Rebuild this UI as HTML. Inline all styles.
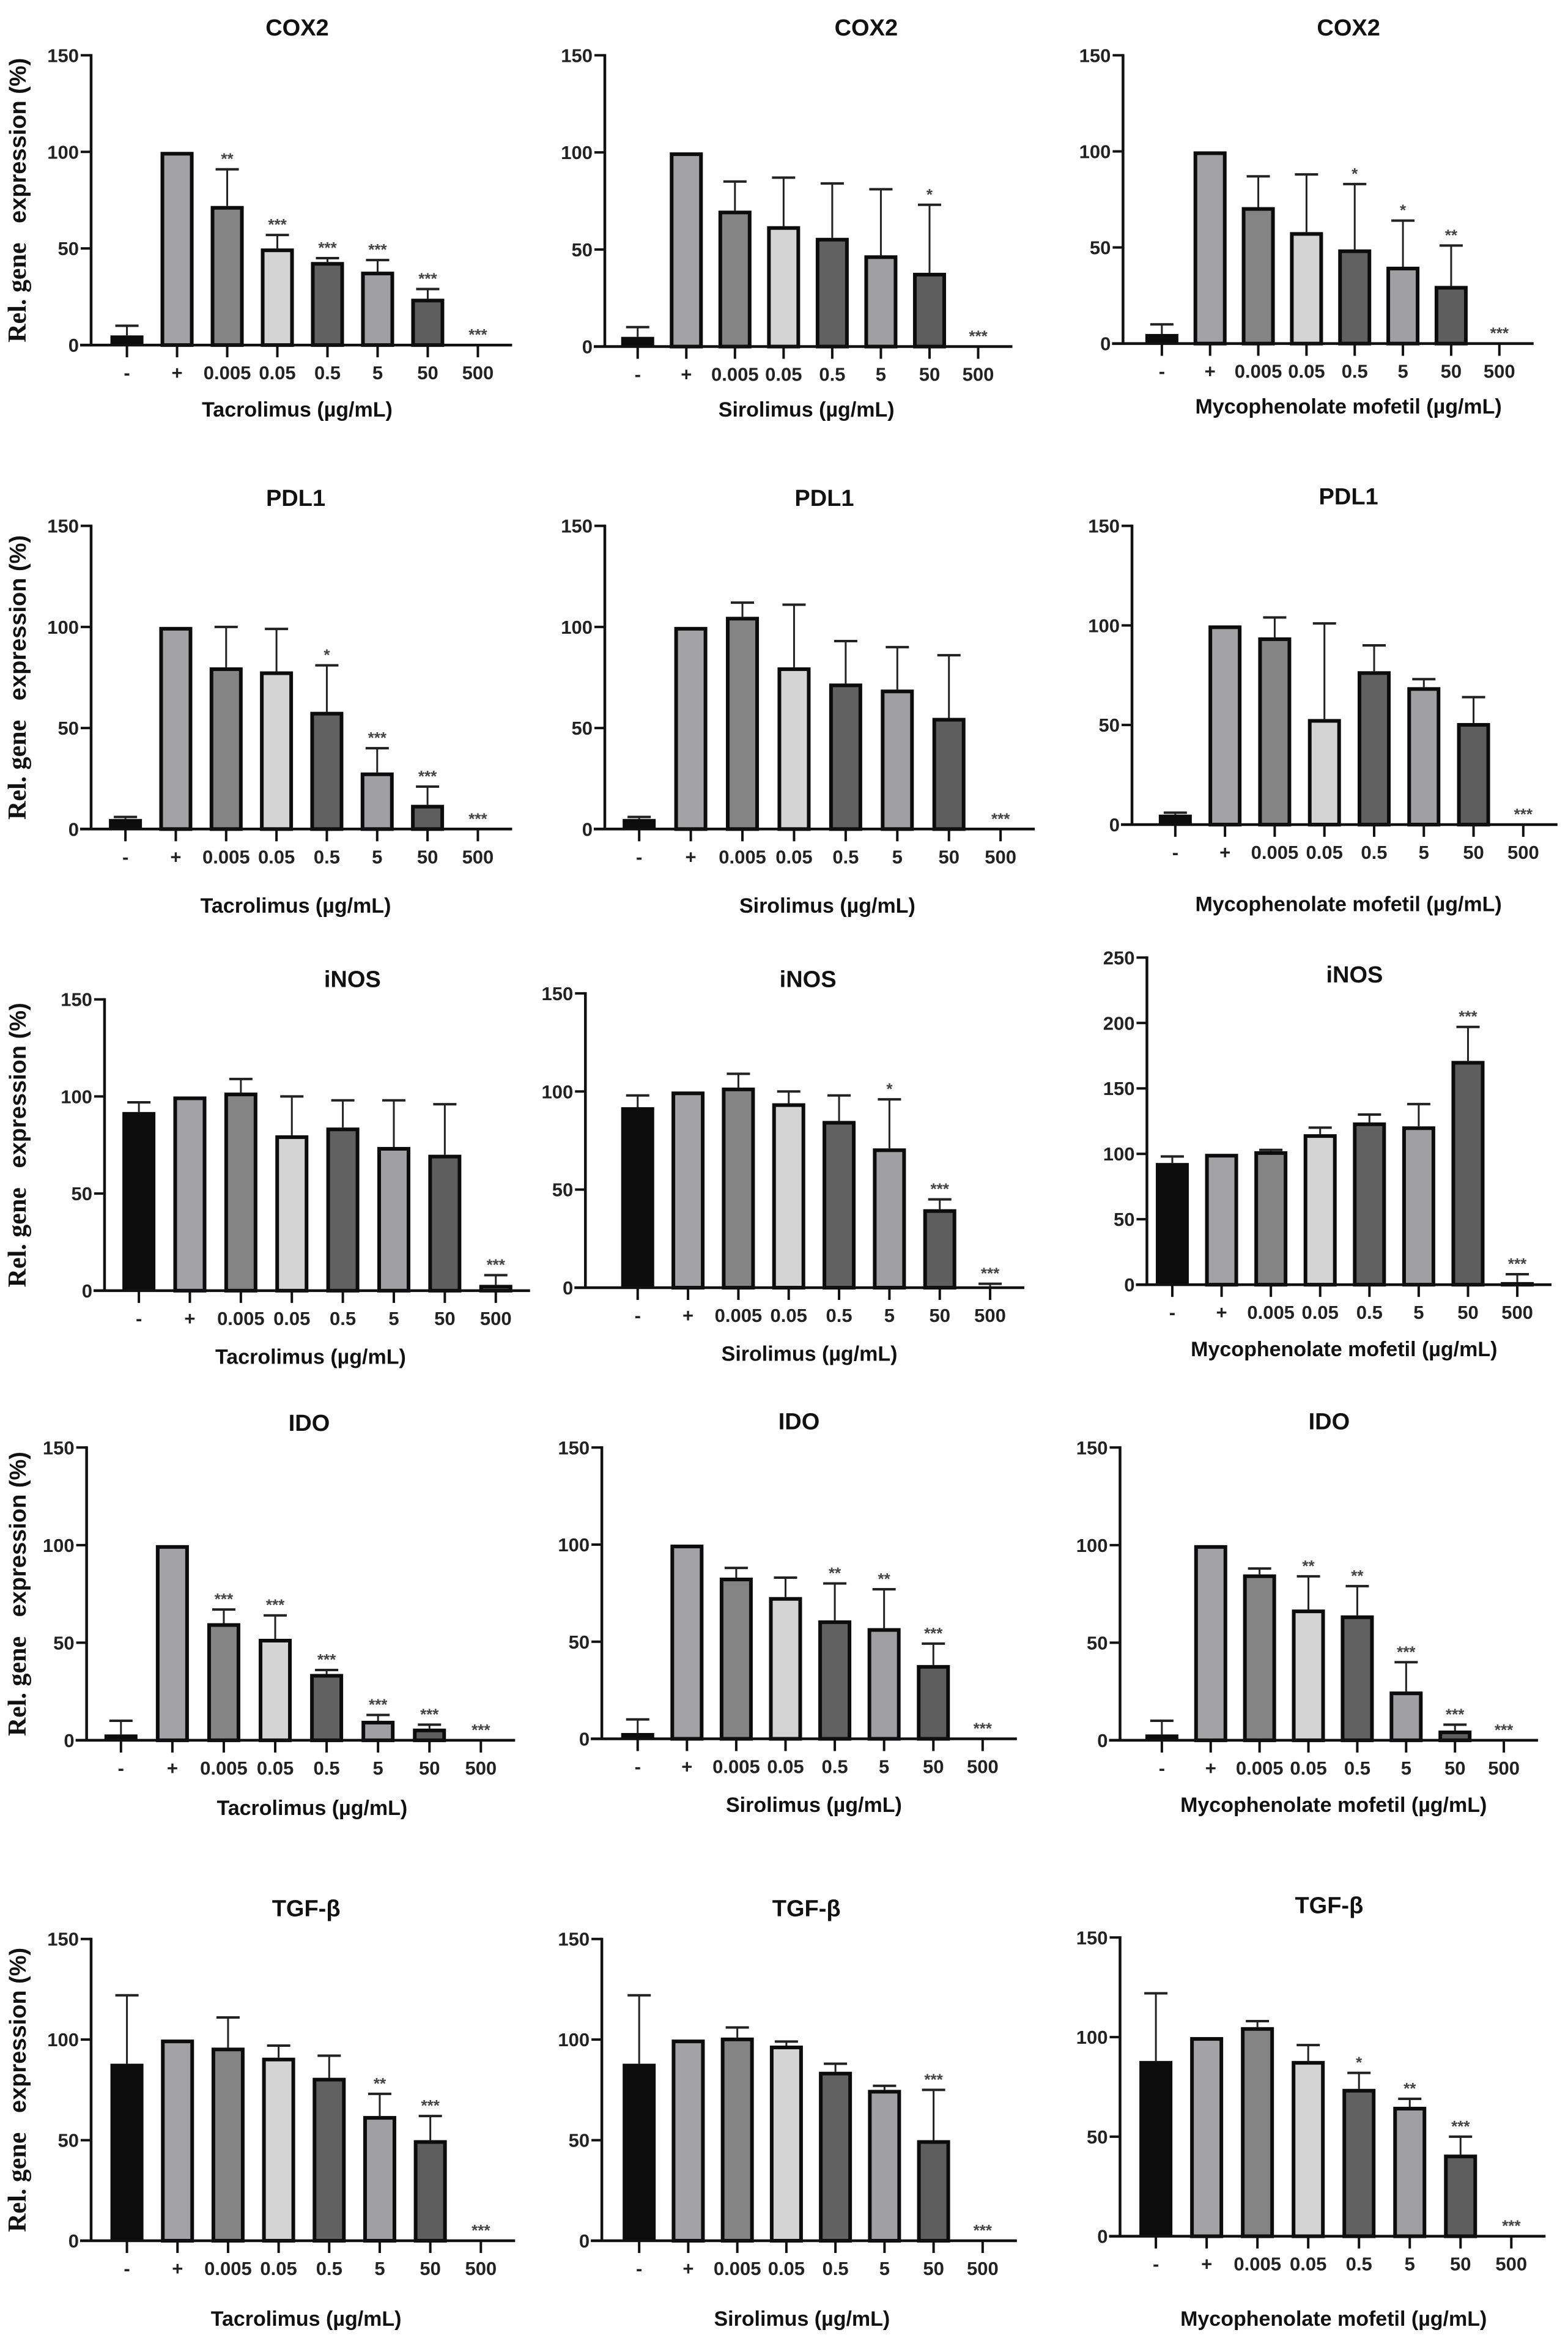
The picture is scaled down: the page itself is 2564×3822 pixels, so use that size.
<!DOCTYPE html>
<html><head><meta charset="utf-8">
<style>
html,body{margin:0;padding:0;background:#fff;}
svg{display:block;}
</style></head>
<body>
<svg id="fig" width="2564" height="3822" viewBox="0 0 2564 3822" xmlns="http://www.w3.org/2000/svg"></svg>
<script>
// ---- data ----
const categories = ['-','+','0.005','0.05','0.5','5','50','500'];
const panelTitles = ['COX2','COX2','COX2','PDL1','PDL1','PDL1','iNOS','iNOS','iNOS','IDO','IDO','IDO','TGF-β','TGF-β','TGF-β'];
const drugs = ['Tacrolimus','Sirolimus','Mycophenolate mofetil'];
const yMaxes = [150,150,150,150,150,150,150,150,250,150,150,150,150,150,150];
const means = [
 [5,100,72,50,43,38,24,0],
 [5,100,70,62,56,47,38,0],
 [5,100,71,58,49,40,30,0],
 [5,100,80,78,58,28,12,0],
 [5,100,105,80,72,69,55,0],
 [5,100,94,53,77,69,51,0],
 [92,100,102,80,84,74,70,3],
 [92,100,102,94,85,71,40,0],
 [93,100,102,115,124,121,171,2],
 [3,100,60,52,34,10,6,0],
 [3,100,83,73,61,57,38,0],
 [3,100,85,67,64,25,5,0],
 [88,100,96,91,81,62,50,0],
 [88,100,101,97,84,75,50,0],
 [88,100,105,88,74,65,41,0]
];
const errTops = [
 [10,100,91,57,45,44,29,0],
 [10,100,85,87,84,81,73,0],
 [10,100,87,88,83,64,51,0],
 [6,100,100,99,81,40,21,0],
 [6,100,112,111,93,90,86,0],
 [6,100,104,101,90,73,64,0],
 [97,100,109,100,98,98,96,8],
 [98,100,109,100,98,96,45,2],
 [98,100,103,120,130,138,197,8],
 [10,100,67,64,36,13,8,0],
 [10,100,88,83,80,77,49,0],
 [10,100,88,84,79,40,8,0],
 [122,100,111,97,92,73,62,0],
 [122,100,106,99,88,77,75,0],
 [122,100,108,96,82,69,50,0]
];
const stars = [
 ['','','**','***','***','***','***','***'],
 ['','','','','','','*','***'],
 ['','','','','*','*','**','***'],
 ['','','','','*','***','***','***'],
 ['','','','','','','','***'],
 ['','','','','','','','***'],
 ['','','','','','','','***'],
 ['','','','','','*','***','***'],
 ['','','','','','','***','***'],
 ['','','***','***','***','***','***','***'],
 ['','','','','**','**','***','***'],
 ['','','','**','**','***','***','***'],
 ['','','','','','**','***','***'],
 ['','','','','','','***','***'],
 ['','','','','*','**','***','***']
];
// ---- layout (preview units, x2.442) ----
const S = 2.442;
// axisX, yTop, y0, firstBar, lastBar, titleX, titleY, xtitleX, xtitleY
const layout = [
 [61,37,231,85,320,199,18,199,274],
 [405,37,232,427,655,580,18,540,274],
 [752,37,230,778,1004,903,18,903,272],
 [61,352,555,84,320,198,333,198,606],
 [405,352,555,428,670,552,333,554,606],
 [758,352,552,787,1020,903,332,903,605],
 [70,669,864,93,332,236,655,208,908],
 [392,665,862,427,663,541,655,542,906],
 [768,641,860,785,1016,907,652,900,903],
 [58,969,1165,81,322,207,952,209,1210],
 [403,969,1164,427,658,535,951,545,1208],
 [750,969,1165,778,1007,890,951,893,1208],
 [61,1298,1500,85,322,205,1277,205,1552],
 [403,1298,1500,428,658,540,1277,537,1552],
 [750,1297,1497,774,1012,890,1275,893,1552]
];
const fills = ['#0c0c0c','#a3a3a5','#848484','#d4d4d4','#616161','#a0a0a2','#5e5e5e','#888'];
const NS='http://www.w3.org/2000/svg';
const svg=document.getElementById('fig');
function mk(tag,attrs,parent){const e=document.createElementNS(NS,tag);for(const k in attrs)e.setAttribute(k,attrs[k]);(parent||svg).appendChild(e);return e;}
const SANS='"Liberation Sans", Arial, sans-serif';
const SERIF='"Liberation Serif", serif';

for(let p=0;p<15;p++){
  const L=layout[p].map(v=>v*S);
  const [ax,yTop,y0,fb,lb,tx,ty,xtx,xty]=L;
  const ymax=yMaxes[p];
  const g=mk('g',{});
  
  
  const yS=v=>y0-(v/ymax)*(y0-yTop);
  const step=(lb-fb)/7;
  const xS=i=>fb+i*step;
  const bw=54;
  const t=mk('text',{x:tx,y:ty+14,'text-anchor':'middle','font-family':SANS,'font-weight':'bold','font-size':38,fill:'#111'},g);
  t.textContent=panelTitles[p];
  
  
  const ya=mk('line',{x1:ax,y1:yTop-2,x2:ax,y2:y0+2,stroke:'#111','stroke-width':4.5},g);
  
  
  for(let v=0;v<=ymax;v+=50){
    const y=yS(v);
    mk('line',{x1:ax-17,y1:y,x2:ax,y2:y,stroke:'#111','stroke-width':4},g);
    const tl=mk('text',{x:ax-20,y:y+11,'text-anchor':'end','font-family':SANS,'font-weight':'bold','font-size':31,fill:'#222'},g);
    tl.textContent=v;
    
    
  }
  for(let i=0;i<8;i++){
    const cx=xS(i);
    const v=means[p][i], e=errTops[p][i];
    if(e>v){
      mk('line',{x1:cx,y1:yS(v),x2:cx,y2:yS(e),stroke:'#222','stroke-width':3},g);
      mk('line',{x1:cx-19,y1:yS(e),x2:cx+19,y2:yS(e),stroke:'#222','stroke-width':4},g);
    }
    if(v>0){
      const h=y0-yS(v);
      const r=mk('rect',{x:cx-bw/2+3,y:yS(v)+3,width:bw-6,height:Math.max(h-3,1),fill:fills[i],stroke:'#0c0c0c','stroke-width':i==0?0:6},g);
      if(i==0){r.setAttribute('x',cx-bw/2);r.setAttribute('width',bw);r.setAttribute('y',yS(v));r.setAttribute('height',h);}
      
      
    }
    if(stars[p][i]){
      const top=Math.max(e,v);
      const st=mk('text',{x:cx,y:yS(top)-8,'text-anchor':'middle','font-family':SANS,'font-weight':'bold','font-size':26,fill:'#444'},g);
      st.textContent=stars[p][i];
      
      
    }
    mk('line',{x1:cx,y1:y0,x2:cx,y2:y0+20,stroke:'#111','stroke-width':4},g);
    const xl=mk('text',{x:cx,y:y0+56,'text-anchor':'middle','font-family':SANS,'font-weight':'bold','font-size':31,fill:'#222'},g);
    xl.textContent=categories[i];
    
    
  }
  const xa=mk('line',{x1:ax-18,y1:y0,x2:lb+56,y2:y0,stroke:'#111','stroke-width':4.5},g);
  
  
  const xt=mk('text',{x:xtx,y:xty+12,'text-anchor':'middle','font-family':SANS,'font-weight':'bold','font-size':34,fill:'#111'},g);
  xt.textContent=drugs[p%3]+' (µg/mL)';
  
  
  if(p%3==0){
    const cy=(yTop+y0)/2;
    const yl=mk('text',{x:0,y:0,'text-anchor':'middle','font-weight':'bold','font-size':38,fill:'#111',transform:'translate(42,'+cy+') rotate(-90)'},g);
    const a=mk('tspan',{'font-family':SERIF,'font-size':42},yl);a.textContent='Rel. gene\u00a0\u00a0\u00a0';
    const b=mk('tspan',{'font-family':SANS},yl);b.textContent='expression (%)';
    
    
  }
}
</script>
</body></html>
